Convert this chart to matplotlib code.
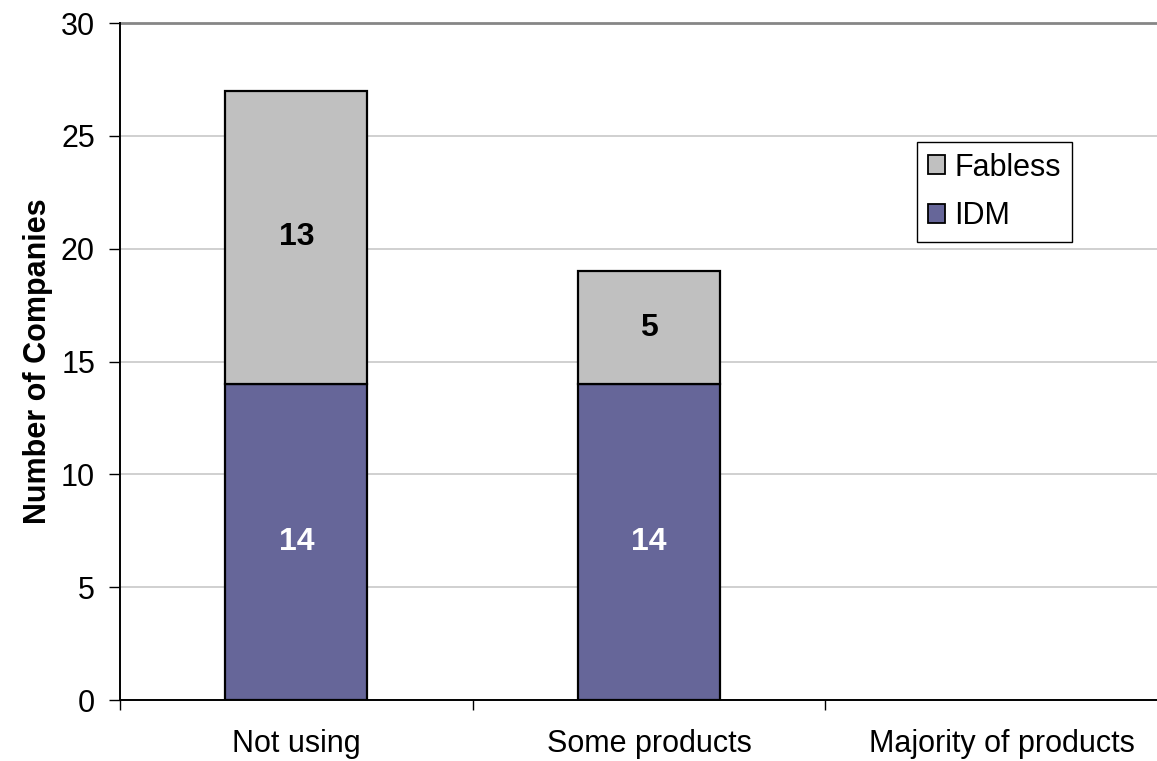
import matplotlib
matplotlib.use("Agg")
import matplotlib.pyplot as plt
from matplotlib.patches import Patch

plt.rcParams['font.family'] = ['Liberation Sans', 'DejaVu Sans']

categories = ["Not using", "Some products", "Majority of products"]
idm = [14, 14, 0]
fabless = [13, 5, 0]
yticks = [0, 5, 10, 15, 20, 25, 30]

idm_color = "#666699"
fab_color = "#C0C0C0"
fs = 22

W, H = 1157, 761
fig = plt.figure(figsize=(W / 100, H / 100), dpi=100)
left, right, bottom, top = 120, 1178, 700, 23
ax = fig.add_axes([left / W, (H - bottom) / H, (right - left) / W, (bottom - top) / H])

x = list(range(len(categories)))
bw = 0.403
edge_idm = ["black" if v > 0 else "none" for v in idm]
edge_fab = ["black" if v > 0 else "none" for v in fabless]
ax.bar(x, idm, width=bw, color=idm_color, edgecolor=edge_idm, linewidth=1.6, zorder=3, label="IDM")
ax.bar(x, fabless, width=bw, bottom=idm, color=fab_color, edgecolor=edge_fab, linewidth=1.6,
       zorder=3, label="Fabless")

for i in x:
    if idm[i] > 0:
        ax.text(i, idm[i] / 2, str(idm[i]), ha="center", va="center", color="white",
                fontsize=23, fontweight="bold", zorder=4)
    if fabless[i] > 0:
        ax.text(i, idm[i] + fabless[i] / 2, str(fabless[i]), ha="center", va="center",
                color="black", fontsize=23, fontweight="bold", zorder=4)

ax.set_xlim(-0.5, len(categories) - 0.5)
ax.set_ylim(0, 30)
ax.set_yticks(yticks)
ax.tick_params(axis="y", direction="out", length=8, width=1, labelsize=fs, pad=10)

# Category labels centred, ticks at the category boundaries
ax.set_xticks(x)
ax.set_xticklabels(categories, fontsize=fs)
ax.tick_params(axis="x", which="major", length=0, pad=21)
ax.set_xticks([i + 0.5 for i in range(-1, len(categories))], minor=True)
ax.tick_params(axis="x", which="minor", direction="out", length=7, width=1)

for y in yticks[1:-1]:
    ax.axhline(y, color="#C8C8C8", linewidth=1.2, zorder=1)
ax.axhline(30, color="#868686", linewidth=2, zorder=1, clip_on=False)

for s in ["top", "right"]:
    ax.spines[s].set_visible(False)
for s in ["left", "bottom"]:
    ax.spines[s].set_linewidth(1.4)
    ax.spines[s].set_color("black")
    ax.spines[s].set_zorder(5)

ax.set_ylabel("Number of Companies", fontsize=fs, fontweight="bold", labelpad=6)

handles = [Patch(facecolor=fab_color, edgecolor="black", linewidth=1.3, label="Fabless"),
           Patch(facecolor=idm_color, edgecolor="black", linewidth=1.3, label="IDM")]
leg = fig.legend(handles=handles, loc="upper left",
                 bbox_to_anchor=(917 / W, (H - 142) / H),
                 fontsize=fs, frameon=True, fancybox=False, framealpha=1,
                 edgecolor="black", handlelength=0.58, handleheight=0.58,
                 handletextpad=0.3, labelspacing=0.6, borderpad=0.35,
                 borderaxespad=0)
leg.get_frame().set_linewidth(1.0)

fig.savefig("out.png", dpi=100)
